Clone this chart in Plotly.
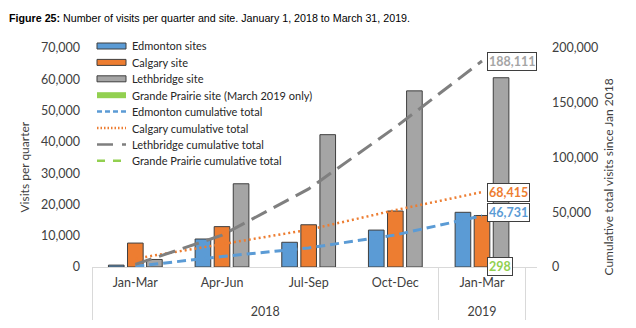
import numpy as np
import plotly.graph_objects as go

# Quarterly visits by site
years = ["2018", "2018", "2018", "2018", "2019"]
quarters = ["Jan-Mar", "Apr-Jun", "Jul-Sep", "Oct-Dec", "Jan-Mar"]
edmonton = [600, 8950, 7900, 11800, 17481]
calgary = [7650, 12900, 13500, 17900, 16465]
lethbridge = [2410, 26600, 42300, 56300, 60501]
grande_prairie = [None, None, None, None, 298]

# Cumulative totals since January 2018
edmonton_cum = np.cumsum(edmonton).tolist()
calgary_cum = np.cumsum(calgary).tolist()
lethbridge_cum = np.cumsum(lethbridge).tolist()
grande_prairie_cum = [None, None, None, None, 298]

BLUE = "#5B9BD5"
ORANGE = "#ED7D31"
GRAY = "#A5A5A5"
GREEN = "#92D050"
LINE_GRAY = "#7F7F7F"
OUTLINE = "#3F3F3F"
TEXT = "#404040"
FONT = "Lato"

# Plot area in pixels
W, H = 636, 328
L, R, T, B = 92, 99, 48, 61
PW, PH = W - L - R, H - T - B


def px_x(p):
    return (p - L) / PW


def px_y(p):
    return (H - B - p) / PH


# Year labels sit one line lower than the quarter labels
x = [["<br>" + yr for yr in years], quarters]
fig = go.Figure()

bar_specs = [
    ("Edmonton sites", edmonton, BLUE, "a"),
    ("Calgary site", calgary, ORANGE, "b"),
    ("Lethbridge site", lethbridge, GRAY, "c"),
    ("Grande Prairie site (March 2019 only)", grande_prairie, GREEN, "c"),
]
for name, vals, color, grp in bar_specs:
    fig.add_trace(go.Bar(
        x=x, y=vals, name=name, offsetgroup=grp,
        marker=dict(color=color, line=dict(color=OUTLINE, width=1)),
        showlegend=False,
    ))

line_specs = [
    ("Edmonton cumulative total", edmonton_cum, BLUE, "9px,5px", 3),
    ("Calgary cumulative total", calgary_cum, ORANGE, "2px,3px", 2.5),
    ("Lethbridge cumulative total", lethbridge_cum, LINE_GRAY, "17px,8px", 3),
    ("Grande Prairie cumulative total", grande_prairie_cum, GREEN, "9px,5px", 3),
]
for name, vals, color, dash, w in line_specs:
    fig.add_trace(go.Scatter(
        x=x, y=vals, name=name, mode="lines", yaxis="y2",
        line=dict(color=color, dash=dash, width=w),
        showlegend=False,
    ))

# Value boxes at the end of each cumulative line
labels = [
    (lethbridge_cum[-1], "#A5A5A5", 0),
    (calgary_cum[-1], ORANGE, 0),
    (edmonton_cum[-1], BLUE, 3),
    (grande_prairie_cum[-1], GREEN, 0),
]
annotations = []
for val, color, shift in labels:
    annotations.append(dict(
        x=4, y=val, xref="x", yref="y2", xanchor="left", yanchor="middle",
        xshift=5, yshift=shift, showarrow=False,
        text=f"<b>{val:,.0f}</b>",
        font=dict(family=FONT, size=12.5, color=color),
        bgcolor="white", bordercolor=OUTLINE, borderwidth=1, borderpad=1,
    ))

# Legend drawn inside the plot area
legend_rows = [
    ("Edmonton sites", "bar", BLUE, None),
    ("Calgary site", "bar", ORANGE, None),
    ("Lethbridge site", "bar", GRAY, None),
    ("Grande Prairie site (March 2019 only)", "solid", GREEN, None),
    ("Edmonton cumulative total", "line", BLUE, "5px,3px"),
    ("Calgary cumulative total", "line", ORANGE, "1.5px,2px"),
    ("Lethbridge cumulative total", "line", LINE_GRAY, "16px,9px"),
    ("Grande Prairie cumulative total", "line", GREEN, "8px,8px"),
]
shapes = []
y0 = 46
for i, (label, kind, color, dash) in enumerate(legend_rows):
    yc = y0 + i * 16.4
    if kind == "bar":
        shapes.append(dict(type="rect", xref="paper", yref="paper",
                           x0=px_x(97), x1=px_x(126), y0=px_y(yc - 3), y1=px_y(yc + 3),
                           fillcolor=color, line=dict(color=OUTLINE, width=1)))
    elif kind == "solid":
        shapes.append(dict(type="rect", xref="paper", yref="paper",
                           x0=px_x(97), x1=px_x(126), y0=px_y(yc - 3), y1=px_y(yc + 3),
                           fillcolor=color, line=dict(width=0)))
    else:
        shapes.append(dict(type="line", xref="paper", yref="paper",
                           x0=px_x(97), x1=px_x(126), y0=px_y(yc), y1=px_y(yc),
                           line=dict(color=color, width=2.5, dash=dash)))
    annotations.append(dict(
        x=px_x(130), y=px_y(yc), xref="paper", yref="paper",
        xanchor="left", yanchor="middle", showarrow=False, text=label,
        font=dict(family=FONT, size=11, color="#262626"),
    ))

# Axis titles
annotations.append(dict(
    x=px_x(14), y=px_y(167), xref="paper", yref="paper", textangle=-90,
    showarrow=False, text="Visits per quarter",
    font=dict(family=FONT, size=12, color=TEXT),
))
annotations.append(dict(
    x=px_x(617), y=px_y(177), xref="paper", yref="paper", textangle=-90,
    showarrow=False, text="Cumulative total visits since Jan 2018",
    font=dict(family=FONT, size=12, color=TEXT),
))

fig.update_layout(
    width=W, height=H,
    margin=dict(l=L, r=R, t=T, b=B, autoexpand=False),
    paper_bgcolor="white", plot_bgcolor="white",
    barmode="group", bargap=0.34, bargroupgap=0.18,
    title=dict(
        text="<b>Figure 25:</b> Number of visits per quarter and site. January 1, 2018 to March 31, 2019.",
        x=9 / W, xanchor="left", y=1 - 18 / H, yanchor="middle",
        font=dict(family="Liberation Sans", size=10.7, color="black"),
    ),
    xaxis=dict(
        type="multicategory", showline=True, linecolor="#D9D9D9", linewidth=1,
        showgrid=False, ticks="", showdividers=True, dividercolor="#D9D9D9",
        dividerwidth=1, ticklabelstandoff=4, automargin=False,
        tickfont=dict(family=FONT, size=12.5, color=TEXT),
    ),
    yaxis=dict(
        range=[0, 70000], tickvals=[0, 10000, 20000, 30000, 40000, 50000, 60000, 70000],
        tickformat=",d", showgrid=False, zeroline=False, showline=False, ticks="",
        ticklabelstandoff=11, automargin=False,
        tickfont=dict(family=FONT, size=12.5, color=TEXT),
    ),
    yaxis2=dict(
        range=[0, 200000], tickvals=[0, 50000, 100000, 150000, 200000],
        tickformat=",d", overlaying="y", side="right", showgrid=False,
        zeroline=False, showline=False, ticks="", ticklabelstandoff=14,
        automargin=False, tickfont=dict(family=FONT, size=12.5, color=TEXT),
    ),
    shapes=shapes,
    annotations=annotations,
)

fig.write_html("out.html")
